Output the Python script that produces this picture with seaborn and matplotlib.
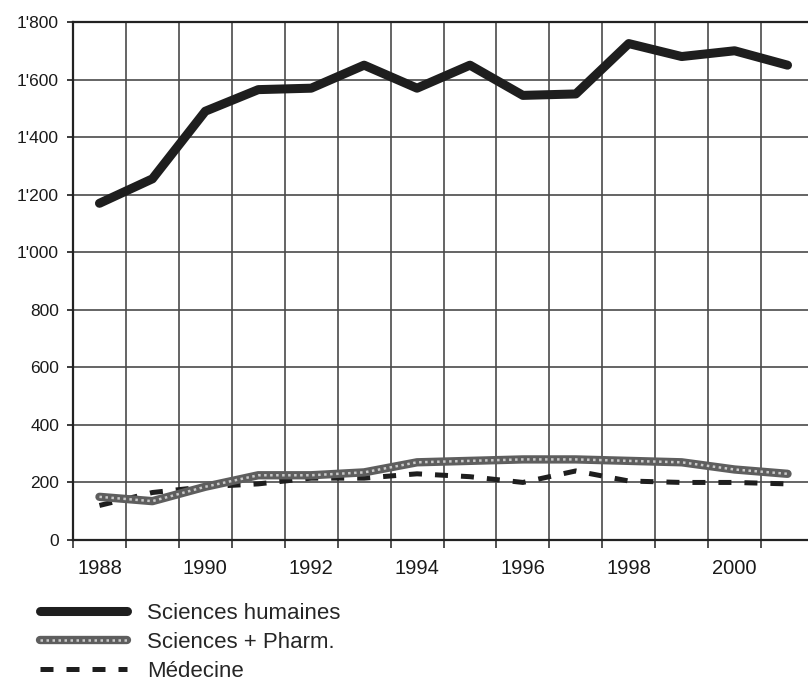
import pandas as pd
import seaborn as sns
from matplotlib import pyplot as plt
from matplotlib.ticker import FuncFormatter, MultipleLocator, FixedLocator
from matplotlib.legend_handler import HandlerTuple

# values
years = list(range(1988, 2002))
humaines = [1170, 1255, 1490, 1565, 1570, 1650, 1570, 1650, 1545, 1550, 1725, 1680, 1700, 1650]
pharm = [150, 135, 185, 225, 225, 235, 270, 275, 280, 280, 275, 270, 245, 230]
medecine = [120, 165, 185, 195, 215, 215, 230, 220, 200, 240, 205, 200, 200, 195]
labels = ["Sciences humaines", "Sciences + Pharm.", "Médecine"]

df = pd.DataFrame({"annee": years, "humaines": humaines,
                   "pharm": pharm, "medecine": medecine})

sns.set_theme(style="white")
plt.rcParams["font.family"] = ["Liberation Sans", "DejaVu Sans"]

fig = plt.figure(figsize=(8.08, 6.9), dpi=100)
ax = fig.add_axes([73 / 808, 1 - 540 / 690, (814 - 73) / 808, (540 - 22) / 690])

sns.lineplot(data=df, x="annee", y="humaines", color="#1e1e1e",
             linewidth=6.5, ax=ax, zorder=5)
l1 = ax.lines[-1]
sns.lineplot(data=df, x="annee", y="pharm", color="#5e5e5e",
             linewidth=6, ax=ax, zorder=4)
l2 = ax.lines[-1]
# light speckle on top of the grey band
l2b, = ax.plot(df["annee"], df["pharm"], color="#c9c9c9", linewidth=1.8,
               linestyle=(0, (1, 1.4)), zorder=4.5)
sns.lineplot(data=df, x="annee", y="medecine", color="#1e1e1e",
             linewidth=3.6, ax=ax, zorder=3)
l3 = ax.lines[-1]
l3.set_dashes((2.6, 2.6))
l3.set_dash_capstyle("butt")

# category style axis: grid on the boundaries, labels on the centres
ax.set_xlim(1987.5, 2001.5)
ax.set_ylim(0, 1800)
ax.xaxis.set_major_locator(FixedLocator([y for y in years if y % 2 == 0]))
ax.xaxis.set_minor_locator(FixedLocator([y + 0.5 for y in range(1987, 2001)]))
ax.yaxis.set_major_locator(MultipleLocator(200))
ax.yaxis.set_major_formatter(FuncFormatter(lambda v, p: f"{int(v):,}".replace(",", "'")))
ax.grid(which="minor", axis="x", color="#4a4a4a", linewidth=1.2)
ax.grid(which="major", axis="y", color="#4a4a4a", linewidth=1.2)
ax.tick_params(axis="x", which="major", length=0, pad=14, labelsize=14.5, colors="#1a1a1a")
ax.tick_params(axis="x", which="minor", length=6, width=1.2, color="#333333", bottom=True)
ax.tick_params(axis="y", which="major", length=4, width=1.2, pad=6, labelsize=12.5,
               colors="#1a1a1a", left=True)
for s in ax.spines.values():
    s.set_color("#222222")
    s.set_linewidth(1.6)
ax.set_xlabel("")
ax.set_ylabel("")

fig.legend([l1, (l2, l2b), l3], labels, loc="upper left",
           bbox_to_anchor=(40 / 808, 1 - 603 / 690), frameon=False,
           handlelength=3.9, handletextpad=0.9, labelspacing=0.35,
           borderpad=0, borderaxespad=0, fontsize=16,
           handler_map={tuple: HandlerTuple(ndivide=1, pad=0)})

fig.savefig("out.png", dpi=100)
